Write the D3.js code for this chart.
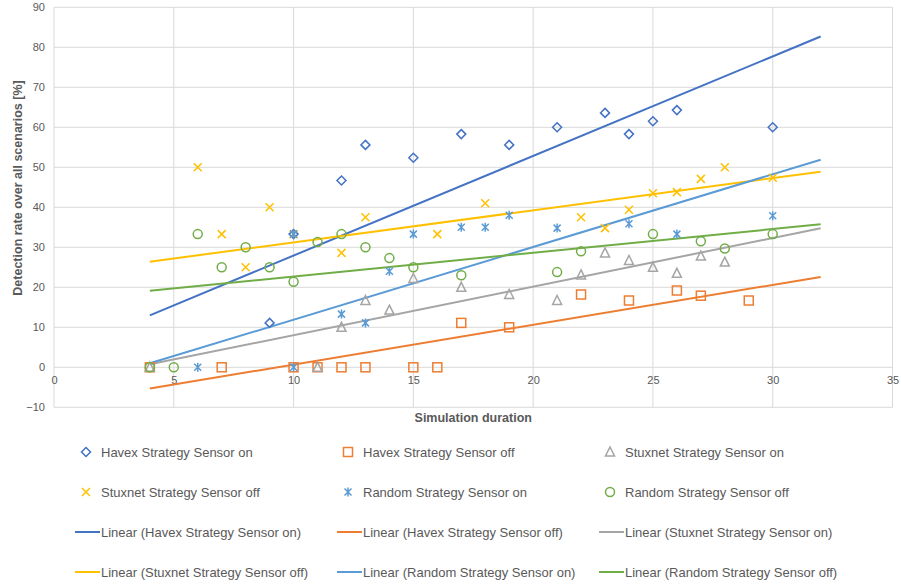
<!DOCTYPE html>
<html>
<head>
<meta charset="utf-8">
<script src="https://cdn.jsdelivr.net/npm/d3@7"></script>
<style>
  html, body { margin: 0; padding: 0; background: #fff; }
  svg { display: block; font-family: "Liberation Sans", Arial, sans-serif; }
</style>
</head>
<body>
<svg id="chart" width="901" height="585"></svg>
<script>
// Detection rate per simulation duration, one array pair per strategy/sensor setting
const havexOnX  = [9, 10, 12, 13, 15, 17, 19, 21, 23, 24, 25, 26, 30];
const havexOnY  = [11.1, 33.3, 46.7, 55.6, 52.4, 58.3, 55.6, 60, 63.6, 58.3, 61.5, 64.3, 60];

const havexOffX = [4, 7, 10, 11, 12, 13, 15, 16, 17, 19, 22, 24, 26, 27, 29];
const havexOffY = [0, 0, 0, 0, 0, 0, 0, 0, 11.1, 10, 18.2, 16.7, 19.2, 17.9, 16.7];

const stuxOnX   = [4, 11, 12, 13, 14, 15, 17, 19, 21, 22, 23, 24, 25, 26, 27, 28];
const stuxOnY   = [0, 0, 10, 16.7, 14.3, 22.2, 20, 18.2, 16.7, 23.1, 28.6, 26.7, 25, 23.5, 27.8, 26.3];

const stuxOffX  = [6, 7, 8, 9, 10, 12, 13, 16, 18, 22, 23, 24, 25, 26, 27, 28, 30];
const stuxOffY  = [50, 33.3, 25, 40, 33.3, 28.6, 37.5, 33.3, 41, 37.5, 34.8, 39.4, 43.5, 43.8, 47.1, 50, 47.4];

const randOnX   = [6, 10, 10, 12, 13, 14, 15, 17, 18, 19, 21, 24, 26, 30];
const randOnY   = [0, 0, 33.3, 13.3, 11.1, 24, 33.3, 35, 35, 38, 34.8, 35.9, 33.3, 37.9];

const randOffX  = [4, 5, 6, 7, 8, 9, 10, 11, 12, 13, 14, 15, 17, 21, 22, 25, 27, 28, 30];
const randOffY  = [0, 0, 33.3, 25, 30, 25, 21.4, 31.3, 33.3, 30, 27.3, 25, 23, 23.8, 29, 33.3, 31.5, 29.7, 33.3];

// Linear trend lines: value at the start and end of the fitted range
const trendRange = [4, 32];
const trendStart = [13.0, -5.3, 0.75, 26.4, 1.0, 19.15];
const trendEnd   = [82.7, 22.6, 34.75, 48.9, 51.9, 35.75];

const seriesNames = ["Havex Strategy Sensor on", "Havex Strategy Sensor off", "Stuxnet Strategy Sensor on",
                     "Stuxnet Strategy Sensor off", "Random Strategy Sensor on", "Random Strategy Sensor off"];
const seriesColors = ["#4472C4", "#ED7D31", "#A5A5A5", "#FFC000", "#5B9BD5", "#70AD47"];
const seriesShapes = ["diamond", "square", "triangle", "cross", "star", "circle"];

const xTicks = [0, 5, 10, 15, 20, 25, 30, 35];
const yTicks = [-10, 0, 10, 20, 30, 40, 50, 60, 70, 80, 90];

const xs = [havexOnX, havexOffX, stuxOnX, stuxOffX, randOnX, randOffX];
const ys = [havexOnY, havexOffY, stuxOnY, stuxOffY, randOnY, randOffY];
const series = seriesNames.map((name, i) => ({
  name, color: seriesColors[i], shape: seriesShapes[i],
  points: xs[i].map((x, j) => ({ x, y: ys[i][j] })),
  trend: [{ x: trendRange[0], y: trendStart[i] }, { x: trendRange[1], y: trendEnd[i] }]
}));

const svg = d3.select("#chart");
const plot = { left: 54, right: 892.5, top: 7.3, bottom: 407.3 };

const x = d3.scaleLinear().domain([0, 35]).range([plot.left, plot.right]);
const y = d3.scaleLinear().domain([-10, 90]).range([plot.bottom, plot.top]);

const gridColor = "#D9D9D9";
const textColor = "#595959";

// gridlines
svg.append("g").selectAll("line.h").data(yTicks).join("line")
  .attr("x1", plot.left).attr("x2", plot.right)
  .attr("y1", d => y(d)).attr("y2", d => y(d))
  .attr("stroke", gridColor).attr("stroke-width", 1);
svg.append("g").selectAll("line.v").data(xTicks).join("line")
  .attr("x1", d => x(d)).attr("x2", d => x(d))
  .attr("y1", plot.top).attr("y2", plot.bottom)
  .attr("stroke", gridColor).attr("stroke-width", 1);

// y axis labels
const yAxis = d3.axisLeft(y).tickValues(yTicks).tickSize(0).tickPadding(9);
const gy = svg.append("g").attr("transform", `translate(${plot.left},0)`).call(yAxis);
gy.select(".domain").remove();
gy.selectAll("text").attr("fill", textColor).style("font-size", "11px")
  .style("font-family", "'Liberation Sans', Arial, sans-serif");

// x axis labels sit under the zero line
const xAxis = d3.axisBottom(x).tickValues(xTicks).tickSize(0).tickPadding(9);
const gx = svg.append("g").attr("transform", `translate(0,${y(0)})`).call(xAxis);
gx.select(".domain").remove();
gx.selectAll("text").attr("fill", textColor).style("font-size", "11px")
  .style("font-family", "'Liberation Sans', Arial, sans-serif");

// axis titles
svg.append("text")
  .attr("x", (plot.left + plot.right) / 2).attr("y", 422)
  .attr("text-anchor", "middle").attr("fill", textColor)
  .style("font-size", "12.5px").style("font-weight", "bold")
  .text("Simulation duration");
svg.append("text")
  .attr("transform", "translate(22,188) rotate(-90)")
  .attr("text-anchor", "middle").attr("fill", textColor)
  .style("font-size", "12.5px").style("font-weight", "bold")
  .text("Detection rate over all scenarios [%]");

// trend lines
const line = d3.line().x(d => x(d.x)).y(d => y(d.y));
svg.append("g").selectAll("path").data(series).join("path")
  .attr("d", d => line(d.trend))
  .attr("fill", "none").attr("stroke", d => d.color).attr("stroke-width", 2);

// marker drawing
function drawMarker(g, shape, color) {
  const sw = 1.5;
  if (shape === "diamond") {
    g.append("path").attr("d", "M0,-4.5L4.5,0L0,4.5L-4.5,0Z")
      .attr("fill", "none").attr("stroke", color).attr("stroke-width", sw);
  } else if (shape === "square") {
    g.append("rect").attr("x", -4.5).attr("y", -4.5).attr("width", 9).attr("height", 9)
      .attr("fill", "none").attr("stroke", color).attr("stroke-width", sw);
  } else if (shape === "triangle") {
    g.append("path").attr("d", "M0,-5L4.5,4L-4.5,4Z")
      .attr("fill", "none").attr("stroke", color).attr("stroke-width", sw);
  } else if (shape === "cross") {
    g.append("path").attr("d", "M-4,-4L4,4M4,-4L-4,4")
      .attr("fill", "none").attr("stroke", color).attr("stroke-width", sw);
  } else if (shape === "star") {
    g.append("path").attr("d", "M-3.5,-3.5L3.5,3.5M3.5,-3.5L-3.5,3.5M0,-4.5L0,4.5")
      .attr("fill", "none").attr("stroke", color).attr("stroke-width", sw);
  } else if (shape === "circle") {
    g.append("circle").attr("r", 4.5)
      .attr("fill", "none").attr("stroke", color).attr("stroke-width", sw);
  }
}

// scatter points
series.forEach(s => {
  const g = svg.append("g");
  g.selectAll("g").data(s.points).join("g")
    .attr("transform", d => `translate(${x(d.x)},${y(d.y)})`)
    .each(function () { drawMarker(d3.select(this), s.shape, s.color); });
});

// legend: 3 columns, markers then trend lines
const colX = [86, 348, 610];
const rowY = [452, 492, 532, 572];
const legendItems = [];
series.forEach((s, i) => legendItems.push({ kind: "marker", s, label: s.name, idx: i }));
series.forEach((s, i) => legendItems.push({ kind: "line", s, label: `Linear (${s.name})`, idx: 6 + i }));

const legend = svg.append("g");
legendItems.forEach(item => {
  const cx = colX[item.idx % 3];
  const cy = rowY[Math.floor(item.idx / 3)];
  const g = legend.append("g").attr("transform", `translate(${cx},${cy})`);
  if (item.kind === "marker") {
    const m = g.append("g");
    drawMarker(m, item.s.shape, item.s.color);
  } else {
    g.append("line").attr("x1", -11).attr("x2", 14).attr("y1", 0).attr("y2", 0)
      .attr("stroke", item.s.color).attr("stroke-width", 2);
  }
  g.append("text").attr("x", 15).attr("y", 0).attr("dy", "0.35em")
    .attr("fill", textColor).style("font-size", "13px")
    .text(item.label);
});
</script>
</body>
</html>
